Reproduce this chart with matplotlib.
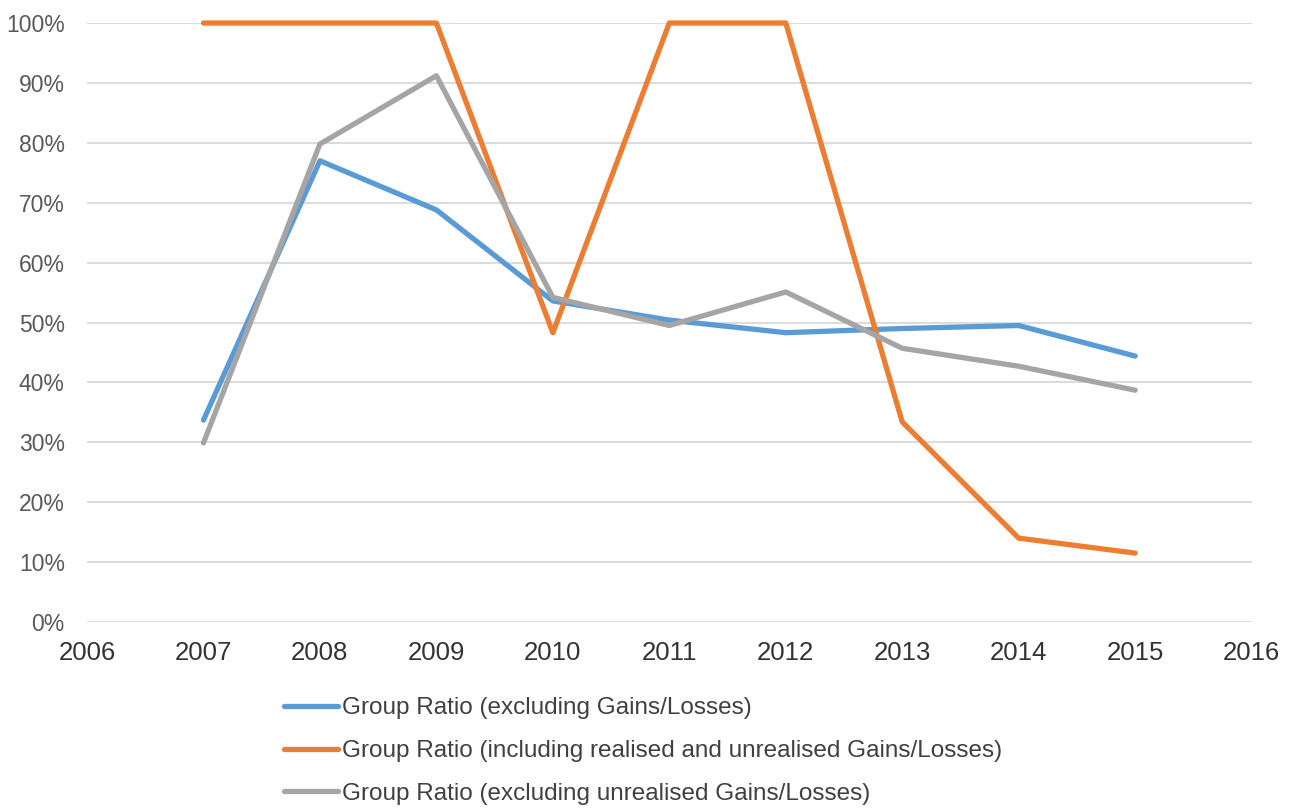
import numpy as np
import matplotlib
matplotlib.use('Agg')
from matplotlib import pyplot as plt
from matplotlib.ticker import FuncFormatter

years = [2007, 2008, 2009, 2010, 2011, 2012, 2013, 2014, 2015]
excl_gains = [33.7, 77.0, 68.8, 53.6, 50.4, 48.3, 49.0, 49.5, 44.4]
incl_gains = [100.0, 100.0, 100.0, 48.3, 100.0, 100.0, 33.4, 14.0, 11.5]
excl_unrealised = [29.9, 79.8, 91.2, 54.2, 49.5, 55.1, 45.7, 42.7, 38.7]

labels = [
    "Group Ratio (excluding Gains/Losses)",
    "Group Ratio (including realised and unrealised Gains/Losses)",
    "Group Ratio (excluding unrealised Gains/Losses)",
]
colors = ['#5B9BD5', '#ED7D31', '#A5A5A5']

plt.rcParams['font.family'] = ['Liberation Sans', 'DejaVu Sans']

fig = plt.figure(figsize=(12.89, 8.08), dpi=100)
ax = fig.add_axes([0.0675, 0.2302, 0.9035, 0.7413])

for series, label, color in zip([excl_gains, incl_gains, excl_unrealised], labels, colors):
    ax.plot(years, series, color=color, lw=3.8, label=label,
            solid_capstyle='round', solid_joinstyle='round', clip_on=False)

ax.set_xlim(2006, 2016)
ax.set_ylim(0, 100)
ax.set_xticks(range(2006, 2017))
ax.set_yticks(range(0, 101, 10))
ax.yaxis.set_major_formatter(FuncFormatter(lambda v, p: "%d%%" % v))
ax.grid(axis='y', color='#D9D9D9', lw=1.3)
ax.set_axisbelow(True)
for s in ax.spines.values():
    s.set_visible(False)
ax.tick_params(axis='both', length=0)
ax.tick_params(axis='y', labelsize=16.5, labelcolor='#595959', pad=16)
ax.tick_params(axis='x', labelsize=18.5, labelcolor='#333333', pad=14)

fig.legend(loc='upper left', bbox_to_anchor=(0.203, 0.164), frameon=False,
           fontsize=17.5, handlelength=2.25, handletextpad=0.15, labelspacing=0.85,
           labelcolor='#404040')

fig.savefig('out.png', dpi=100)
